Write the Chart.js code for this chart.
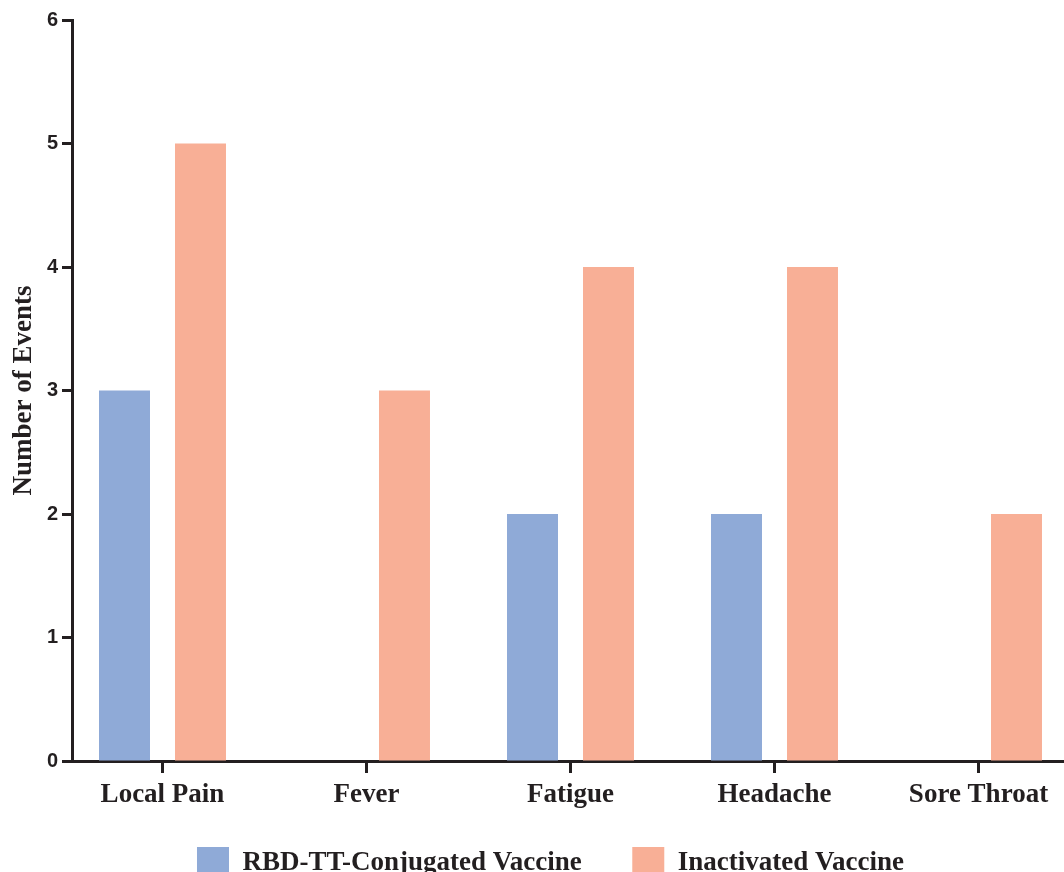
<!DOCTYPE html>
<html>
<head>
<meta charset="utf-8">
<script src="https://cdn.jsdelivr.net/npm/chart.js@4/dist/chart.umd.min.js"></script>
<style>
  html, body { margin: 0; padding: 0; background: #ffffff; overflow: hidden; }
  #wrap { width: 1101px; height: 889px; }
</style>
</head>
<body>
<div id="wrap"><canvas id="chart" width="1101" height="889"></canvas></div>
<script>
// Adverse events per vaccine group
const categories = ['Local Pain', 'Fever', 'Fatigue', 'Headache', 'Sore Throat'];
const rbdValues = [3, 0, 2, 2, 0];
const inactivatedValues = [5, 3, 4, 4, 2];
const yTicks = [0, 1, 2, 3, 4, 5, 6];

const AXIS = '#231f20';
const BLUE = '#8faad7';
const ORANGE = '#f8af96';

const toPoints = vals => vals.map((v, i) => ({ x: i, y: v }));

new Chart(document.getElementById('chart'), {
    type: 'bar',
    data: {
        datasets: [
            {
                label: 'RBD-TT-Conjugated Vaccine',
                data: toPoints(rbdValues),
                backgroundColor: BLUE,
                borderWidth: 0,
            },
            {
                label: 'Inactivated Vaccine',
                data: toPoints(inactivatedValues),
                backgroundColor: ORANGE,
                borderWidth: 0,
            }
        ]
    },
    options: {
        responsive: false,
        animation: false,
        devicePixelRatio: 1,
        categoryPercentage: 0.745,
        barPercentage: 0.671,
        layout: { padding: { top: 20, left: 0, right: 0, bottom: 0 } },
        scales: {
            x: {
                type: 'linear',
                min: -0.4436,
                max: 4.6005,
                offset: false,
                grid: { offset: false, drawOnChartArea: false, drawTicks: true, tickLength: 12, tickWidth: 3, tickColor: AXIS },
                border: { display: true, color: AXIS, width: 3 },
                ticks: {
                    stepSize: 1,
                    includeBounds: false,
                    autoSkip: false,
                    maxRotation: 0,
                    padding: 6,
                    color: AXIS,
                    font: { family: "'Liberation Serif', 'Times New Roman', serif", size: 27, weight: 'bold' },
                    callback: v => Number.isInteger(v) ? categories[v] : '',
                },
                afterFit: scale => { scale.height = 76; }
            },
            y: {
                min: yTicks[0],
                max: yTicks[yTicks.length - 1],
                grid: { drawOnChartArea: false, drawTicks: true, tickLength: 10, tickWidth: 3, tickColor: AXIS },
                border: { display: true, color: AXIS, width: 3 },
                ticks: {
                    stepSize: 1,
                    padding: 4,
                    color: AXIS,
                    font: { family: "'Liberation Sans', Arial, sans-serif", size: 20, weight: 'bold' },
                },
                title: {
                    display: true,
                    text: 'Number of Events',
                    color: AXIS,
                    padding: { top: 8, bottom: 0 },
                    font: { family: "'Liberation Serif', 'Times New Roman', serif", size: 27, weight: 'bold' },
                },
                afterFit: scale => { scale.width = 72; }
            }
        },
        plugins: {
            legend: {
                display: true,
                position: 'bottom',
                labels: {
                    boxWidth: 32,
                    boxHeight: 32,
                    padding: 10,
                    color: AXIS,
                    font: { family: "'Liberation Serif', 'Times New Roman', serif", size: 27, weight: 'bold' },
                    // wider gap between the two entries without growing the legend's height
                    generateLabels: chart => {
                        const items = Chart.defaults.plugins.legend.labels.generateLabels(chart);
                        items.forEach((it, i) => {
                            if (i < items.length - 1) it.text += '\u2002\u2002\u2002';
                        });
                        return items;
                    }
                }
            },
            tooltip: { enabled: false }
        }
    }
});
</script>
</body>
</html>
